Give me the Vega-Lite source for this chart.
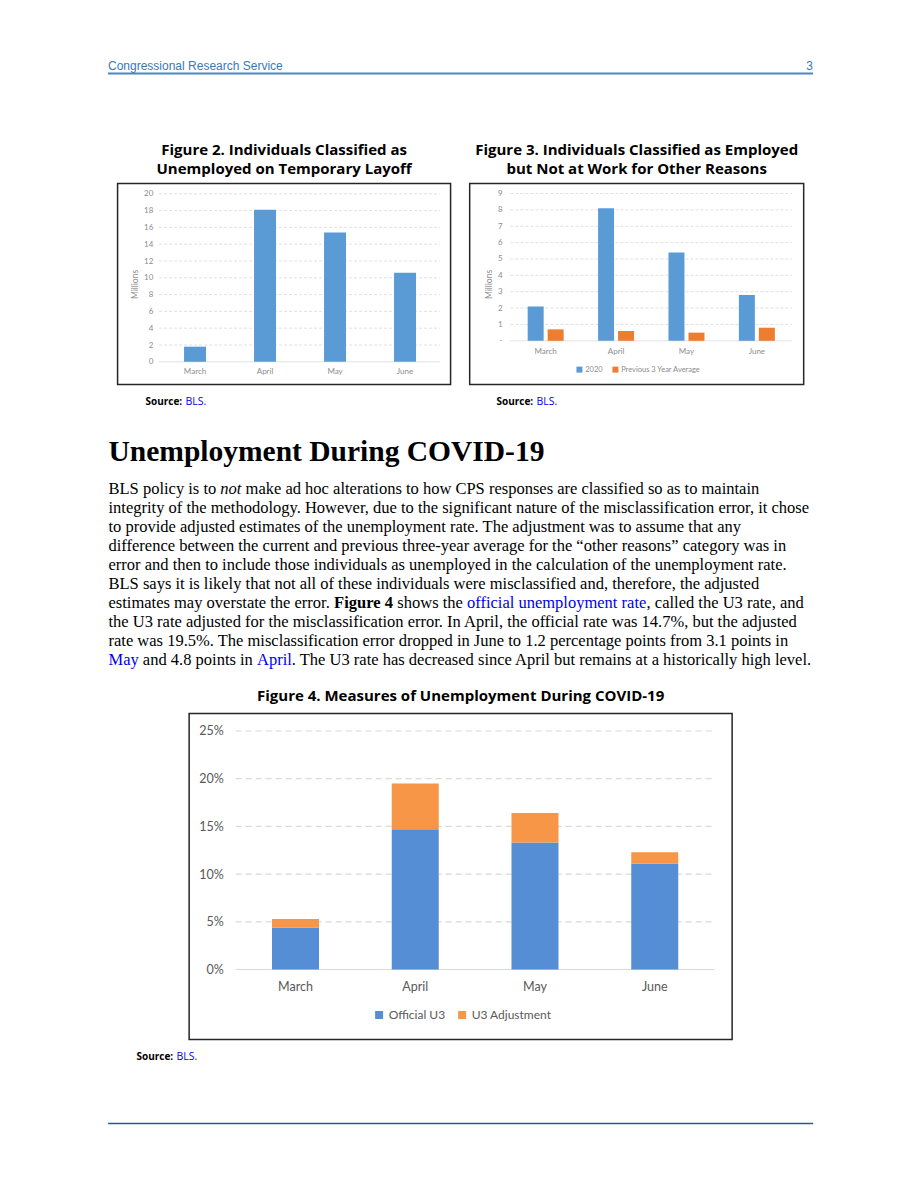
{
  "$schema": "https://vega.github.io/schema/vega-lite/v6.json",
  "padding": {"left": 107, "top": 57.5, "right": 0, "bottom": 0},
  "background": "white",
  "config": {"view": {"stroke": null}, "font": "Lato"},
  "datasets": {
    "header": [{"publisher": "Congressional Research Service", "page": "3"}],
    "fig2": [
      {"month": "March", "millions": 1.8},
      {"month": "April", "millions": 18.1},
      {"month": "May", "millions": 15.4},
      {"month": "June", "millions": 10.6}
    ],
    "fig3": [
      {"month": "March", "series": "2020", "millions": 2.1},
      {"month": "March", "series": "Previous 3 Year Average", "millions": 0.7},
      {"month": "April", "series": "2020", "millions": 8.1},
      {"month": "April", "series": "Previous 3 Year Average", "millions": 0.6},
      {"month": "May", "series": "2020", "millions": 5.4},
      {"month": "May", "series": "Previous 3 Year Average", "millions": 0.5},
      {"month": "June", "series": "2020", "millions": 2.8},
      {"month": "June", "series": "Previous 3 Year Average", "millions": 0.8}
    ],
    "fig4": [
      {"month": "March", "measure": "Official U3", "rate": 4.4},
      {"month": "March", "measure": "U3 Adjustment", "rate": 0.9},
      {"month": "April", "measure": "Official U3", "rate": 14.7},
      {"month": "April", "measure": "U3 Adjustment", "rate": 4.8},
      {"month": "May", "measure": "Official U3", "rate": 13.3},
      {"month": "May", "measure": "U3 Adjustment", "rate": 3.1},
      {"month": "June", "measure": "Official U3", "rate": 11.1},
      {"month": "June", "measure": "U3 Adjustment", "rate": 1.2}
    ],
    "grid2": [{"tick": 0}, {"tick": 2}, {"tick": 4}, {"tick": 6}, {"tick": 8}, {"tick": 10}, {"tick": 12}, {"tick": 14}, {"tick": 16}, {"tick": 18}, {"tick": 20}],
    "grid3": [{"tick": 0}, {"tick": 1}, {"tick": 2}, {"tick": 3}, {"tick": 4}, {"tick": 5}, {"tick": 6}, {"tick": 7}, {"tick": 8}, {"tick": 9}],
    "grid4": [{"tick": 0}, {"tick": 5}, {"tick": 10}, {"tick": 15}, {"tick": 20}, {"tick": 25}],
    "sources": [
      {"figure": "Figure 2", "label": "Source:", "citation": "BLS."},
      {"figure": "Figure 3", "label": "Source:", "citation": "BLS."},
      {"figure": "Figure 4", "label": "Source:", "citation": "BLS."}
    ],
    "paragraph": [
      {"line": 1, "seg": 1, "role": "plain", "text": "BLS policy is to"},
      {"line": 1, "seg": 2, "role": "emphasis", "text": "not"},
      {"line": 1, "seg": 3, "role": "plain", "text": "make ad hoc alterations to how CPS responses are classified so as to maintain"},
      {"line": 2, "seg": 1, "role": "plain", "text": "integrity of the methodology. However, due to the significant nature of the misclassification error, it chose"},
      {"line": 3, "seg": 1, "role": "plain", "text": "to provide adjusted estimates of the unemployment rate. The adjustment was to assume that any"},
      {"line": 4, "seg": 1, "role": "plain", "text": "difference between the current and previous three-year average for the “other reasons” category was in"},
      {"line": 5, "seg": 1, "role": "plain", "text": "error and then to include those individuals as unemployed in the calculation of the unemployment rate."},
      {"line": 6, "seg": 1, "role": "plain", "text": "BLS says it is likely that not all of these individuals were misclassified and, therefore, the adjusted"},
      {"line": 7, "seg": 1, "role": "plain", "text": "estimates may overstate the error."},
      {"line": 7, "seg": 2, "role": "strong", "text": "Figure 4"},
      {"line": 7, "seg": 3, "role": "plain", "text": "shows the"},
      {"line": 7, "seg": 4, "role": "link", "text": "official unemployment rate"},
      {"line": 7, "seg": 5, "role": "plain", "text": ", called the U3 rate, and"},
      {"line": 8, "seg": 1, "role": "plain", "text": "the U3 rate adjusted for the misclassification error. In April, the official rate was 14.7%, but the adjusted"},
      {"line": 9, "seg": 1, "role": "plain", "text": "rate was 19.5%. The misclassification error dropped in June to 1.2 percentage points from 3.1 points in"},
      {"line": 10, "seg": 1, "role": "link", "text": "May"},
      {"line": 10, "seg": 2, "role": "plain", "text": "and 4.8 points in"},
      {"line": 10, "seg": 3, "role": "link", "text": "April"},
      {"line": 10, "seg": 4, "role": "plain", "text": ". The U3 rate has decreased since April but remains at a historically high level."}
    ]
  },
  "spacing": 0,
  "center": true,
  "resolve": {
    "scale": {"color": "independent", "strokeDash": "independent"},
    "legend": {"color": "independent"}
  },
  "vconcat": [
    {
      "width": 705,
      "height": 16,
      "data": {"name": "header"},
      "layer": [
        {
          "mark": {"type": "rule", "color": "#4F88BE", "strokeWidth": 2},
          "encoding": {
            "x": {"datum": 0, "type": "quantitative", "scale": {"domain": [0, 1]}, "axis": null},
            "x2": {"datum": 1},
            "y": {"datum": 0, "type": "quantitative", "scale": {"domain": [0, 1]}, "axis": null}
          }
        },
        {
          "mark": {"type": "text", "align": "left", "baseline": "middle", "font": "Liberation Sans", "fontSize": 12, "color": "#3A78B5"},
          "encoding": {
            "text": {"field": "publisher"},
            "x": {"datum": 0, "type": "quantitative"},
            "y": {"datum": 0.5, "type": "quantitative"}
          }
        },
        {
          "mark": {"type": "text", "align": "right", "baseline": "middle", "font": "Liberation Sans", "fontSize": 12, "color": "#3A78B5"},
          "encoding": {
            "text": {"field": "page"},
            "x": {"datum": 1, "type": "quantitative"},
            "y": {"datum": 0.5, "type": "quantitative"}
          }
        }
      ]
    },
    {"width": 10, "height": 66.2, "data": {"values": []}, "mark": "text"},
    {
      "resolve": {"scale": {"color": "independent"}, "legend": {"color": "independent"}},
      "hconcat": [
        {
          "width": 333,
          "height": 201,
          "view": {"stroke": "#262626", "strokeWidth": 1.5},
          "title": {"text": ["Figure 2. Individuals Classified as", "Unemployed on Temporary Layoff"], "font": "Open Sans", "fontSize": 15, "fontWeight": "bold", "color": "#000000", "lineHeight": 19.3, "baseline": "bottom", "offset": -8.3, "anchor": "middle", "frame": "group"},
          "layer": [
            {
              "data": {"name": "grid2"},
              "mark": {"type": "rule", "color": "#d9d9d9", "strokeWidth": 0.8},
              "encoding": {
                "y": {"field": "tick", "type": "quantitative", "scale": {"domain": [-2.702, 21.226], "nice": false, "zero": false}, "axis": null},
                "x": {"datum": 0, "type": "quantitative", "scale": {"domain": [-0.1477, 1.0374]}, "axis": null},
                "x2": {"datum": 1},
                "strokeDash": {"condition": {"test": "datum.tick === 0", "value": [1, 0]}, "value": [3, 2]}
              }
            },
            {
              "data": {"name": "fig2"},
              "mark": {"type": "bar", "color": "#5B9BD5"},
              "encoding": {
                "x": {"field": "month", "type": "nominal", "sort": ["March", "April", "May", "June"],
                  "scale": {"type": "band", "paddingInner": 0.686, "paddingOuter": 0.7214, "align": 0.658, "round": false},
                  "axis": {"orient": "bottom", "offset": -22.7, "labelPadding": 6, "labelFontSize": 8, "labelColor": "#8c8c8c", "labelFont": "Lato", "labelAngle": 0, "domain": false, "ticks": false, "tickSize": 0, "grid": false, "title": null}},
                "y": {"field": "millions", "type": "quantitative", "scale": {"domain": [-2.702, 21.226], "nice": false, "zero": false},
                  "axis": {"orient": "left", "offset": -35.2, "labelPadding": 0, "values": [0, 2, 4, 6, 8, 10, 12, 14, 16, 18, 20], "domain": false, "ticks": false, "tickSize": 0, "grid": false, "labelFontSize": 8, "labelColor": "#8c8c8c", "labelFont": "Lato", "title": "Millions", "titleFont": "Lato", "titleFontSize": 8.5, "titleFontWeight": "normal", "titleColor": "#8c8c8c", "titlePadding": 4}}
              }
            }
          ],
          "resolve": {"scale": {"x": "independent"}, "axis": {"x": "independent", "y": "independent"}}
        },
        {
          "width": 334,
          "height": 201,
          "view": {"stroke": "#262626", "strokeWidth": 1.5},
          "title": {"text": ["Figure 3. Individuals Classified as Employed", "but Not at Work for Other Reasons"], "font": "Open Sans", "fontSize": 15, "fontWeight": "bold", "color": "#000000", "lineHeight": 19.3, "baseline": "bottom", "offset": -8.3, "anchor": "middle", "frame": "group"},
          "layer": [
            {
              "data": {"name": "grid3"},
              "mark": {"type": "rule", "color": "#d9d9d9", "strokeWidth": 0.8},
              "encoding": {
                "y": {"field": "tick", "type": "quantitative", "scale": {"domain": [-2.669, 9.611], "nice": false, "zero": false}, "axis": null},
                "x": {"datum": 0, "type": "quantitative", "scale": {"domain": [-0.1445, 1.0412]}, "axis": null},
                "x2": {"datum": 1},
                "strokeDash": {"condition": {"test": "datum.tick === 0", "value": [1, 0]}, "value": [3, 2]}
              }
            },
            {
              "data": {"name": "fig3"},
              "mark": {"type": "bar"},
              "encoding": {
                "x": {"field": "month", "type": "nominal", "sort": ["March", "April", "May", "June"],
                  "scale": {"type": "band", "paddingInner": 0.489, "paddingOuter": 0.6166, "align": 0.668, "round": false},
                  "axis": {"orient": "bottom", "offset": -43.7, "labelPadding": 7, "labelFontSize": 8, "labelColor": "#8c8c8c", "labelFont": "Lato", "labelAngle": 0, "domain": false, "ticks": false, "tickSize": 0, "grid": false, "title": null}},
                "xOffset": {"field": "series", "type": "nominal", "sort": ["2020", "Previous 3 Year Average"], "scale": {"type": "band", "paddingInner": 0.2, "paddingOuter": 0, "round": false}},
                "y": {"field": "millions", "type": "quantitative", "scale": {"domain": [-2.669, 9.611], "nice": false, "zero": false},
                  "axis": {"orient": "left", "offset": -32.4, "labelPadding": 0, "values": [0, 1, 2, 3, 4, 5, 6, 7, 8, 9], "labelExpr": "datum.value === 0 ? '-' : datum.label", "domain": false, "ticks": false, "tickSize": 0, "grid": false, "labelFontSize": 8, "labelColor": "#8c8c8c", "labelFont": "Lato", "title": "Millions", "titleFont": "Lato", "titleFontSize": 8.5, "titleFontWeight": "normal", "titleColor": "#8c8c8c", "titlePadding": 4}},
                "color": {"field": "series", "type": "nominal", "scale": {"domain": ["2020", "Previous 3 Year Average"], "range": ["#5B9BD5", "#ED7D31"]},
                  "legend": {"orient": "none", "legendX": 106, "legendY": 182, "direction": "horizontal", "title": null, "symbolType": "square", "symbolSize": 36, "symbolStrokeWidth": 0, "labelFontSize": 7.5, "labelColor": "#8c8c8c", "labelFont": "Lato", "labelOffset": 2, "columnPadding": 9}}
              }
            }
          ],
          "resolve": {"scale": {"x": "independent"}, "axis": {"x": "independent", "y": "independent"}}
        }
      ],
      "spacing": 17.1
    },
    {
      "hconcat": [
        {
          "width": 351,
          "height": 32,
          "data": {"name": "sources"},
          "transform": [{"filter": "datum.figure === 'Figure 2'"}],
          "layer": [
            {"mark": {"type": "text", "align": "left", "baseline": "middle", "font": "Open Sans", "fontSize": 10, "fontWeight": "bold", "color": "#000000"},
             "encoding": {"text": {"field": "label"}, "x": {"datum": 0, "type": "quantitative", "scale": {"domain": [0, 1]}, "axis": null}}},
            {"mark": {"type": "text", "align": "left", "baseline": "middle", "font": "Open Sans", "fontSize": 10.5, "color": "#0000EE", "dx": 40},
             "encoding": {"text": {"field": "citation"}, "x": {"datum": 0, "type": "quantitative"}}}
          ]
        },
        {
          "width": 280,
          "height": 32,
          "data": {"name": "sources"},
          "transform": [{"filter": "datum.figure === 'Figure 3'"}],
          "layer": [
            {"mark": {"type": "text", "align": "left", "baseline": "middle", "font": "Open Sans", "fontSize": 10, "fontWeight": "bold", "color": "#000000"},
             "encoding": {"text": {"field": "label"}, "x": {"datum": 0, "type": "quantitative", "scale": {"domain": [0, 1]}, "axis": null}}},
            {"mark": {"type": "text", "align": "left", "baseline": "middle", "font": "Open Sans", "fontSize": 10.5, "color": "#0000EE", "dx": 40},
             "encoding": {"text": {"field": "citation"}, "x": {"datum": 0, "type": "quantitative"}}}
          ]
        }
      ],
      "spacing": 0
    },
    {"width": 10, "height": 18.5, "data": {"values": []}, "mark": "text"},
    {
      "width": 705,
      "height": 190,
      "title": {"text": "Unemployment During COVID-19", "anchor": "start", "frame": "group", "font": "Liberation Serif", "fontSize": 29.5, "fontWeight": "bold", "color": "#000000", "offset": -16.7, "baseline": "bottom"},
      "data": {"name": "paragraph"},
      "encoding": {
        "x": {"datum": 0, "type": "quantitative", "scale": {"domain": [0, 1]}, "axis": null},
        "y": {"field": "line", "type": "ordinal", "scale": {"type": "point", "padding": 0.5, "domain": [1, 2, 3, 4, 5, 6, 7, 8, 9, 10]}, "axis": null},
        "text": {"field": "text"},
        "color": {"field": "role", "type": "nominal", "scale": {"domain": ["plain", "link", "strong", "emphasis"], "range": ["#000000", "#0000EE", "#000000", "#000000"]}, "legend": null}
      },
      "layer": [
        {"transform": [{"filter": "datum.seg === 1"}],
         "mark": {"type": "text", "align": "left", "baseline": "middle", "font": "Liberation Serif", "fontSize": 16.5}},
        {"transform": [{"filter": "datum.line === 1 && datum.seg === 2"}],
         "mark": {"type": "text", "align": "left", "baseline": "middle", "font": "Liberation Serif", "fontSize": 16.5, "fontStyle": "italic", "dx": 111.85}},
        {"transform": [{"filter": "datum.line === 1 && datum.seg === 3"}],
         "mark": {"type": "text", "align": "left", "baseline": "middle", "font": "Liberation Serif", "fontSize": 16.5, "dx": 137.07}},
        {"transform": [{"filter": "datum.line === 7 && datum.seg === 2"}],
         "mark": {"type": "text", "align": "left", "baseline": "middle", "font": "Liberation Serif", "fontSize": 16.5, "fontWeight": "bold", "dx": 225.6}},
        {"transform": [{"filter": "datum.line === 7 && datum.seg === 3"}],
         "mark": {"type": "text", "align": "left", "baseline": "middle", "font": "Liberation Serif", "fontSize": 16.5, "dx": 288.8}},
        {"transform": [{"filter": "datum.line === 7 && datum.seg === 4"}],
         "mark": {"type": "text", "align": "left", "baseline": "middle", "font": "Liberation Serif", "fontSize": 16.5, "dx": 358.5}},
        {"transform": [{"filter": "datum.line === 7 && datum.seg === 5"}],
         "mark": {"type": "text", "align": "left", "baseline": "middle", "font": "Liberation Serif", "fontSize": 16.5, "dx": 538.1}},
        {"transform": [{"filter": "datum.line === 10 && datum.seg === 2"}],
         "mark": {"type": "text", "align": "left", "baseline": "middle", "font": "Liberation Serif", "fontSize": 16.5, "dx": 34.37}},
        {"transform": [{"filter": "datum.line === 10 && datum.seg === 3"}],
         "mark": {"type": "text", "align": "left", "baseline": "middle", "font": "Liberation Serif", "fontSize": 16.5, "dx": 148.5}},
        {"transform": [{"filter": "datum.line === 10 && datum.seg === 4"}],
         "mark": {"type": "text", "align": "left", "baseline": "middle", "font": "Liberation Serif", "fontSize": 16.5, "dx": 183.33}}
      ]
    },
    {"width": 10, "height": 18, "data": {"values": []}, "mark": "text"},
    {
      "width": 543,
      "height": 326,
      "view": {"stroke": "#262626", "strokeWidth": 1.5},
      "title": {"text": "Figure 4. Measures of Unemployment During COVID-19", "font": "Open Sans", "fontSize": 15, "fontWeight": "bold", "color": "#000000", "baseline": "bottom", "offset": -5.5, "anchor": "middle", "frame": "group"},
      "layer": [
        {
          "data": {"name": "grid4"},
          "mark": {"type": "rule", "color": "#d9d9d9", "strokeWidth": 1.2},
          "encoding": {
            "y": {"field": "tick", "type": "quantitative", "scale": {"domain": [-7.338, 26.834], "nice": false, "zero": false}, "axis": null},
            "x": {"datum": 0, "type": "quantitative", "scale": {"domain": [-0.0971, 1.0365]}, "axis": null},
            "x2": {"datum": 1},
            "strokeDash": {"condition": {"test": "datum.tick === 0", "value": [1, 0]}, "value": [6, 4]}
          }
        },
        {
          "data": {"name": "fig4"},
          "mark": {"type": "bar"},
          "encoding": {
            "x": {"field": "month", "type": "nominal", "sort": ["March", "April", "May", "June"],
              "scale": {"type": "band", "paddingInner": 0.6075, "paddingOuter": 0.571, "align": 0.606, "round": false},
              "axis": {"orient": "bottom", "offset": -70, "labelPadding": 11.4, "labelFontSize": 12.5, "labelColor": "#595959", "labelFont": "Lato", "labelAngle": 0, "domain": false, "ticks": false, "tickSize": 0, "grid": false, "title": null}},
            "y": {"field": "rate", "type": "quantitative", "stack": "zero", "scale": {"domain": [-7.338, 26.834], "nice": false, "zero": false},
              "axis": {"orient": "left", "offset": -34.2, "labelPadding": 0, "values": [0, 5, 10, 15, 20, 25], "labelExpr": "datum.value + '%'", "domain": false, "ticks": false, "tickSize": 0, "grid": false, "labelFontSize": 12.5, "labelColor": "#595959", "labelFont": "Lato", "title": null}},
            "order": {"field": "measure", "sort": "ascending"},
            "color": {"field": "measure", "type": "nominal", "scale": {"domain": ["Official U3", "U3 Adjustment"], "range": ["#558ED5", "#F79646"]},
              "legend": {"orient": "none", "legendX": 184, "legendY": 295.5, "direction": "horizontal", "title": null, "symbolType": "square", "symbolSize": 64, "symbolStrokeWidth": 0, "labelFontSize": 12, "labelColor": "#595959", "labelFont": "Lato", "labelOffset": 3.5, "columnPadding": 11}}
          }
        }
      ],
      "resolve": {"scale": {"x": "independent"}, "axis": {"x": "independent", "y": "independent"}}
    },
    {
      "width": 649,
      "height": 32,
      "data": {"name": "sources"},
      "transform": [{"filter": "datum.figure === 'Figure 4'"}],
      "layer": [
        {"mark": {"type": "text", "align": "left", "baseline": "middle", "font": "Open Sans", "fontSize": 10, "fontWeight": "bold", "color": "#000000"},
         "encoding": {"text": {"field": "label"}, "x": {"datum": 0, "type": "quantitative", "scale": {"domain": [0, 1]}, "axis": null}}},
        {"mark": {"type": "text", "align": "left", "baseline": "middle", "font": "Open Sans", "fontSize": 10.5, "color": "#0000EE", "dx": 40},
         "encoding": {"text": {"field": "citation"}, "x": {"datum": 0, "type": "quantitative"}}}
      ]
    },
    {"width": 10, "height": 48.55, "data": {"values": []}, "mark": "text"},
    {
      "width": 705,
      "height": 2,
      "data": {"values": [{"edge": "footer"}]},
      "mark": {"type": "rule", "color": "#1F5C99", "strokeWidth": 1.5},
      "encoding": {
        "x": {"datum": 0, "type": "quantitative", "scale": {"domain": [0, 1]}, "axis": null},
        "x2": {"datum": 1},
        "y": {"datum": 0, "type": "quantitative", "scale": {"domain": [0, 1]}, "axis": null}
      }
    }
  ]
}
